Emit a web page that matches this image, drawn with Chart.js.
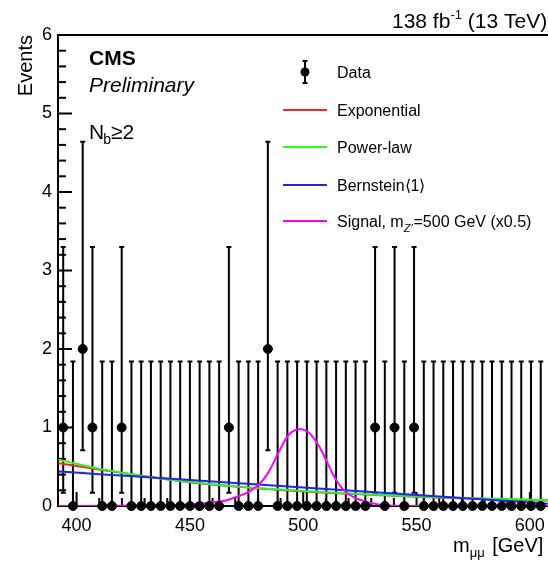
<!DOCTYPE html>
<html>
<head>
<meta charset="utf-8">
<script src="https://cdn.jsdelivr.net/npm/chart.js@4.4.0/dist/chart.umd.min.js"></script>
<style>
  body { margin: 0; background: #fff; }
  canvas { display: block; }
</style>
</head>
<body>
<canvas id="fitChart" width="548" height="563"></canvas>
<script>
// dimuon mass bins (GeV) and observed events
var binCenters = [394.1, 398.4, 402.7, 407.0, 411.3, 415.6, 419.9, 424.2, 428.5, 432.8,
                  437.1, 441.4, 445.7, 450.0, 454.3, 458.6, 462.9, 467.2, 471.5, 475.8,
                  480.1, 484.4, 488.7, 493.0, 497.3, 501.6, 505.9, 510.2, 514.5, 518.8,
                  523.1, 527.4, 531.7, 536.0, 540.3, 544.6, 548.9, 553.2, 557.5, 561.8,
                  566.1, 570.4, 574.7, 579.0, 583.3, 587.6, 591.9, 596.2, 600.5, 604.8];
var counts = [1, 0, 2, 1, 0, 0, 1, 0, 0, 0,
              0, 0, 0, 0, 0, 0, 0, 1, 0, 0,
              0, 2, 0, 0, 0, 0, 0, 0, 0, 0,
              0, 0, 1, 0, 1, 0, 1, 0, 0, 0,
              0, 0, 0, 0, 0, 0, 0, 0, 0, 0];
// Garwood poisson interval per count 0,1,2
var poissonLow = [0, 0.17, 0.71];
var poissonHigh = [1.84, 3.30, 4.64];

// background fits
var fitMass = [392, 410, 430, 450, 470, 490, 510, 530, 550, 570, 590, 608];
var expValues = [0.545, 0.465, 0.378, 0.302, 0.248, 0.205, 0.170, 0.142, 0.118, 0.098, 0.082, 0.070];
var powValues = [0.590, 0.475, 0.380, 0.305, 0.250, 0.210, 0.175, 0.145, 0.122, 0.103, 0.088, 0.078];
var bernValues = [0.440, 0.406, 0.368, 0.330, 0.292, 0.254, 0.216, 0.178, 0.140, 0.102, 0.064, 0.030];

// signal shape, m_Z' = 500 GeV (x0.5)
var sigMass = [392, 430, 450, 458, 464, 468, 472, 476.5, 481, 484, 486, 488, 490, 492, 494, 496,
               498.5, 501, 503, 505, 507, 509, 511, 513, 515, 517, 520, 525, 531, 536, 545, 608];
var sigValues = [0, 0.005, 0.02, 0.04, 0.06, 0.09, 0.13, 0.19, 0.29, 0.40, 0.50, 0.62, 0.73, 0.84, 0.92, 0.96,
                 0.98, 0.96, 0.92, 0.85, 0.76, 0.65, 0.53, 0.41, 0.31, 0.23, 0.15, 0.08, 0.03, 0.01, 0, 0];

var xTicks = [400, 450, 500, 550, 600];
var yTicks = [0, 1, 2, 3, 4, 5, 6];

var FONT = "'Liberation Sans', Arial, Helvetica, sans-serif";
Chart.defaults.font.family = FONT;
Chart.defaults.color = '#000';

function pts(xs, ys) {
    return xs.map(function (x, i) { return {x: x, y: ys[i]}; });
}

var dataPoints = pts(binCenters, counts);

// error bars, inward ticks, frame top
var rootStyle = {
    id: 'rootStyle',
    beforeDatasetsDraw: function (chart) {
        var ctx = chart.ctx, xs = chart.scales.x, ys = chart.scales.y;
        var a = chart.chartArea;
        ctx.save();
        ctx.strokeStyle = '#000';
        ctx.lineWidth = 2;
        // error bars
        binCenters.forEach(function (m, i) {
            var px = xs.getPixelForValue(m);
            var lo = ys.getPixelForValue(poissonLow[counts[i]]);
            var hi = ys.getPixelForValue(poissonHigh[counts[i]]);
            ctx.beginPath();
            ctx.moveTo(px, lo); ctx.lineTo(px, hi);
            ctx.moveTo(px - 2.5, hi); ctx.lineTo(px + 2.5, hi);
            if (counts[i] > 0) { ctx.moveTo(px - 2.5, lo); ctx.lineTo(px + 2.5, lo); }
            ctx.stroke();
        });
        // y ticks
        for (var i = 0; i <= 30; i++) {
            var py = ys.getPixelForValue(i / 5);
            var len = (i % 5 === 0) ? 14 : 8;
            ctx.beginPath();
            ctx.moveTo(a.left, py); ctx.lineTo(a.left + len, py);
            ctx.stroke();
        }
        // x ticks
        for (var v = 400; v <= 600; v += 10) {
            var px2 = xs.getPixelForValue(v);
            var len2 = (v % 50 === 0) ? 14 : 8;
            ctx.beginPath();
            ctx.moveTo(px2, a.bottom); ctx.lineTo(px2, a.bottom - len2);
            ctx.stroke();
        }
        // top frame
        ctx.beginPath();
        ctx.moveTo(a.left - 1, a.top); ctx.lineTo(a.right, a.top);
        ctx.stroke();
        ctx.restore();
    },
    afterDraw: function (chart) {
        var ctx = chart.ctx;
        ctx.save();
        ctx.fillStyle = '#000';
        ctx.textBaseline = 'alphabetic';

        // axis titles
        ctx.save();
        ctx.translate(32, 35);
        ctx.rotate(-Math.PI / 2);
        ctx.textAlign = 'right';
        ctx.font = '20px ' + FONT;
        ctx.fillText('Events', 0, 0);
        ctx.restore();

        ctx.textAlign = 'left';
        var x0 = 453;
        ctx.font = '20px ' + FONT;
        ctx.fillText('m', x0, 552);
        x0 += ctx.measureText('m').width;
        ctx.font = '13px ' + FONT;
        ctx.fillText('\u03bc\u03bc', x0, 557);
        x0 += ctx.measureText('\u03bc\u03bc').width + 2;
        ctx.font = '20px ' + FONT;
        ctx.fillText(' [GeV]', x0, 552);

        // lumi
        var lx = 392;
        ctx.font = '21px ' + FONT;
        ctx.fillText('138 fb', lx, 28);
        lx += ctx.measureText('138 fb').width;
        ctx.font = '13px ' + FONT;
        ctx.fillText('-1', lx, 19);
        lx += ctx.measureText('-1').width;
        ctx.font = '21px ' + FONT;
        ctx.fillText(' (13 TeV)', lx, 28);

        // CMS labels
        ctx.font = 'bold 21px ' + FONT;
        ctx.fillText('CMS', 89, 65);
        ctx.font = 'italic 21px ' + FONT;
        ctx.fillText('Preliminary', 89, 92);
        var nx = 89;
        ctx.font = '21px ' + FONT;
        ctx.fillText('N', nx, 139);
        nx += ctx.measureText('N').width;
        ctx.font = '14px ' + FONT;
        ctx.fillText('b', nx - 1, 144);
        nx += ctx.measureText('b').width - 1;
        ctx.font = '21px ' + FONT;
        ctx.fillText('\u22652', nx, 139);

        // legend
        ctx.strokeStyle = '#000';
        ctx.lineWidth = 2;
        ctx.beginPath();
        ctx.moveTo(305, 61); ctx.lineTo(305, 83);
        ctx.moveTo(302.5, 61); ctx.lineTo(307.5, 61);
        ctx.moveTo(302.5, 83); ctx.lineTo(307.5, 83);
        ctx.stroke();
        ctx.beginPath();
        ctx.arc(305, 72, 4.5, 0, Math.PI * 2);
        ctx.fill();

        var rows = [
            {y: 110, color: '#ff2020'},
            {y: 147, color: '#20ff20'},
            {y: 185, color: '#2020ff'},
            {y: 221, color: '#ff00ff'}
        ];
        rows.forEach(function (r) {
            ctx.strokeStyle = r.color;
            ctx.beginPath();
            ctx.moveTo(283, r.y); ctx.lineTo(327, r.y);
            ctx.stroke();
        });
        ctx.font = '16px ' + FONT;
        ctx.fillText('Data', 337, 78);
        ctx.fillText('Exponential', 337, 116);
        ctx.fillText('Power-law', 337, 153);
        ctx.fillText('Bernstein\u27e81\u27e9', 337, 191);
        var sx = 337;
        ctx.fillText('Signal, m', sx, 227);
        sx += ctx.measureText('Signal, m').width;
        ctx.font = 'italic 11px ' + FONT;
        ctx.fillText("Z'", sx, 232);
        sx += ctx.measureText("Z'").width + 1;
        ctx.font = '16px ' + FONT;
        ctx.fillText('=500 GeV (x0.5)', sx, 227);
        ctx.restore();
    }
};

new Chart(document.getElementById('fitChart').getContext('2d'), {
    type: 'scatter',
    data: {
        datasets: [{
            label: 'Data',
            data: dataPoints,
            backgroundColor: '#000',
            borderColor: '#000',
            pointRadius: 4.5,
            pointHoverRadius: 4.5,
            clip: false,
            order: 0
        }, {
            label: 'Signal',
            type: 'line',
            data: pts(sigMass, sigValues),
            borderColor: '#ff00ff',
            borderWidth: 2,
            pointRadius: 0,
            cubicInterpolationMode: 'monotone',
            fill: false,
            order: 1
        }, {
            label: 'Bernstein<1>',
            type: 'line',
            data: pts(fitMass, bernValues),
            borderColor: '#2020ff',
            borderWidth: 2,
            pointRadius: 0,
            cubicInterpolationMode: 'monotone',
            fill: false,
            order: 2
        }, {
            label: 'Power-law',
            type: 'line',
            data: pts(fitMass, powValues),
            borderColor: '#20ff20',
            borderWidth: 2,
            pointRadius: 0,
            cubicInterpolationMode: 'monotone',
            fill: false,
            order: 3
        }, {
            label: 'Exponential',
            type: 'line',
            data: pts(fitMass, expValues),
            borderColor: '#ff2020',
            borderWidth: 2,
            pointRadius: 0,
            cubicInterpolationMode: 'monotone',
            fill: false,
            order: 4
        }]
    },
    options: {
        responsive: false,
        animation: false,
        events: [],
        layout: {autoPadding: false, padding: {left: 0, right: 0, top: 35, bottom: 0}},
        plugins: {
            legend: {display: false},
            tooltip: {enabled: false}
        },
        scales: {
            x: {
                type: 'linear',
                min: 391.8,
                max: 608,
                afterBuildTicks: function (s) { s.ticks = xTicks.map(function (v) { return {value: v}; }); },
                afterFit: function (s) { s.height = 57; s.paddingLeft = 0; s.paddingRight = 0; },
                grid: {display: false, drawTicks: false},
                border: {display: true, color: '#000', width: 2},
                ticks: {padding: 9, maxRotation: 0, font: {size: 18}, color: '#000'}
            },
            y: {
                type: 'linear',
                min: 0,
                max: 6,
                afterBuildTicks: function (s) { s.ticks = yTicks.map(function (v) { return {value: v}; }); },
                afterFit: function (s) { s.width = 58; s.paddingTop = 0; s.paddingBottom = 0; },
                grid: {display: false, drawTicks: false},
                border: {display: true, color: '#000', width: 2},
                ticks: {padding: 6, font: {size: 18}, color: '#000'}
            }
        }
    },
    plugins: [rootStyle]
});
</script>
</body>
</html>
